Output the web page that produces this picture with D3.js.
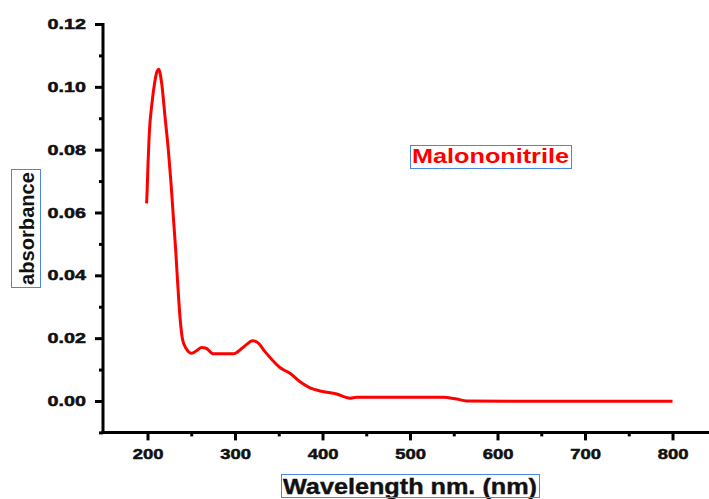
<!DOCTYPE html>
<html><head><meta charset="utf-8">
<script src="https://cdn.jsdelivr.net/npm/d3@7"></script>
<style>body{margin:0;background:#fff;} svg{display:block;} text{font-family:"Liberation Sans",Arial,sans-serif;}</style>
</head><body>
<svg id="c" width="709" height="499"></svg>
<script>
const wavelength = [199,199.6,200.6,202,205,208,211,212.8,216.2,220,223.8,226.9,229.5,232.2,234.5,237.1,240.2,244,250.5,256,261.9,266.9,275.2,298,309.5,320.2,326.7,334.3,349.5,352.6,362.9,374.3,385.7,397.1,416.2,431.4,439,480,538,553.4,564.8,650,800];
const absorbance = [0.0629,0.0670,0.0755,0.0850,0.0945,0.1010,0.1050,0.1056,0.1011,0.0905,0.0799,0.0693,0.0587,0.0481,0.0375,0.0268,0.0194,0.0168,0.0152,0.0160,0.0170,0.0168,0.0150,0.0150,0.0171,0.0192,0.0184,0.0157,0.0111,0.0104,0.0088,0.0061,0.0042,0.0032,0.0022,0.0009,0.0012,0.0012,0.0012,0.0006,0.0,-0.0001,-0.0001];
const xTicks = [200,300,400,500,600,700,800];
const xMinor = [250,350,450,550,650,750];
const yTicks = [0.00,0.02,0.04,0.06,0.08,0.10,0.12];
const yMinor = [-0.01,0.01,0.03,0.05,0.07,0.09,0.11];
const seriesName = "Malononitrile";
const xTitle = "Wavelength nm. (nm)";
const yTitle = "absorbance";

const svg = d3.select("#c");
const x = d3.scaleLinear().domain([150, 850]).range([103.75, 716.25]);
const y = d3.scaleLinear().domain([-0.01, 0.12]).range([432.4, 24]);

function stretch(sel, k){
  sel.each(function(){
    const L = this.getComputedTextLength();
    d3.select(this).attr("textLength", L*k).attr("lengthAdjust","spacingAndGlyphs");
  });
}

// minor ticks
svg.append("g").attr("transform","translate(0,432.4)")
  .call(d3.axisBottom(x).tickValues(xMinor).tickSize(4).tickFormat(""))
  .call(g=>g.select(".domain").remove())
  .call(g=>g.selectAll("line").attr("stroke","#000").attr("stroke-width",3));
svg.append("g").attr("transform","translate(103,0)")
  .call(d3.axisLeft(y).tickValues(yMinor).tickSize(4).tickFormat(""))
  .call(g=>g.select(".domain").remove())
  .call(g=>g.selectAll("line").attr("stroke","#000").attr("stroke-width",3));

// major x axis
const gx = svg.append("g").attr("transform","translate(0,432.4)")
  .call(d3.axisBottom(x).tickValues(xTicks).tickSize(8).tickPadding(8).tickFormat(d3.format("d")));
gx.select(".domain").remove();
gx.selectAll("line").attr("stroke","#000").attr("stroke-width",3);
gx.selectAll("text").attr("font-size",14.5).attr("font-weight","bold").attr("fill","#111")
  .attr("stroke","#111").attr("stroke-width",0.5);
stretch(gx.selectAll("text"),1.27);

// major y axis
const gy = svg.append("g").attr("transform","translate(103,0)")
  .call(d3.axisLeft(y).tickValues(yTicks).tickSize(8).tickPadding(9).tickFormat(d3.format(".2f")));
gy.select(".domain").remove();
gy.selectAll("line").attr("stroke","#000").attr("stroke-width",3);
gy.selectAll("text").attr("font-size",14.5).attr("font-weight","bold").attr("fill","#111")
  .attr("stroke","#111").attr("stroke-width",0.5);
stretch(gy.selectAll("text"),1.36);

// axis lines
svg.append("line").attr("x1",101.5).attr("x2",709).attr("y1",432.4).attr("y2",432.4).attr("stroke","#000").attr("stroke-width",3);
svg.append("line").attr("x1",103).attr("x2",103).attr("y1",y(0.12)-1).attr("y2",433.9).attr("stroke","#000").attr("stroke-width",3);

// curve
const line = d3.line().x((d,i)=>x(wavelength[i])).y(d=>y(d)).curve(d3.curveMonotoneX);
svg.append("path").datum(absorbance).attr("d",line).attr("fill","none").attr("stroke","#ff0000").attr("stroke-width",3).attr("stroke-linejoin","round");

// legend
const leg = svg.append("text").attr("x",412).attr("y",163).attr("font-size",20).attr("font-weight","bold").attr("fill","#ff0000").text(seriesName);
leg.attr("textLength",157).attr("lengthAdjust","spacingAndGlyphs");
svg.append("rect").attr("x",410.5).attr("y",145.5).attr("width",161).attr("height",23).attr("fill","none").attr("stroke","#4a86e8").attr("stroke-width",1);

// x title
svg.append("text").attr("x",283).attr("y",494).attr("font-size",22).attr("font-weight","bold").attr("fill","#111").attr("stroke","#111").attr("stroke-width",0.4).text(xTitle)
  .attr("textLength",254).attr("lengthAdjust","spacingAndGlyphs");
svg.append("rect").attr("x",281.5).attr("y",474.5).attr("width",258).attr("height",23).attr("fill","none").attr("stroke","#4a86e8").attr("stroke-width",1);

// y title
svg.append("text").attr("transform","translate(34,228.5) rotate(-90)").attr("text-anchor","middle").attr("font-size",20).attr("font-weight","bold").attr("fill","#111").text(yTitle)
  .attr("textLength",113).attr("lengthAdjust","spacingAndGlyphs");
svg.append("rect").attr("x",11.5).attr("y",169.5).attr("width",29).attr("height",118).attr("fill","none").attr("stroke","#4a86e8").attr("stroke-width",1);
</script>
</body></html>
